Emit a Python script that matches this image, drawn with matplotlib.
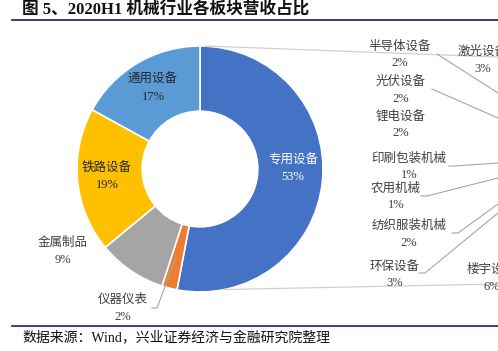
import matplotlib.pyplot as plt
import numpy as np

plt.rcParams['font.family'] = ['Liberation Serif', 'Noto Sans CJK SC']

# main ring: share of H1 2020 revenue by sub-sector (%)
main_names = ['专用设备', '仪器仪表', '金属制品', '铁路设备', '通用设备']
main_vals = [53, 2, 9, 19, 17]
main_colors = ['#4472C4', '#ED7D31', '#A5A5A5', '#FFC000', '#5B9BD5']

# breakdown of 专用设备 (secondary chart, mostly off the right edge)
sub_names = ['半导体设备', '光伏设备', '锂电设备', '印刷包装机械', '农用机械',
             '纺织服装机械', '环保设备', '楼宇设备', '激光设备']
sub_vals = [2, 2, 2, 1, 1, 2, 3, 6, 3]

W, H = 498, 351
fig = plt.figure(figsize=(W / 100, H / 100), dpi=100)

# donut, centre (200,169) px, radius 123 px
cx, cy, r = 200, 169, 123
ax = fig.add_axes([(cx - r) / W, (H - cy - r) / H, 2 * r / W, 2 * r / H])
wedges, _ = ax.pie(main_vals, colors=main_colors, startangle=90, counterclock=False,
                   radius=1, wedgeprops=dict(width=0.53, edgecolor='white', linewidth=1.2))
ax.set_xlim(-1, 1)
ax.set_ylim(-1, 1)
ax.axis('off')

# connector lines toward the secondary chart
xr = (W - cx) / r
ax.plot([0.04, xr], [1.0, (cy - 57) / r], color='#D0D0D0', lw=0.9, clip_on=False)
ang = np.deg2rad(-78.5)
ax.plot([np.cos(ang), xr], [np.sin(ang), (cy - 284) / r], color='#D0D0D0', lw=0.9, clip_on=False)

# overlay in pixel coordinates for text and rules, on top of the ring
ov = fig.add_axes([0, 0, 1, 1], zorder=10)
ov.set_xlim(0, W)
ov.set_ylim(H, 0)
ov.axis('off')

lab_col = '#404040'
fs = 9

# main ring labels (pixel positions)
main_pos = {
    '专用设备': (293, 160, 'white'),
    '通用设备': (153, 80, '#262626'),
    '铁路设备': (107, 168, '#262626'),
    '金属制品': (63, 243, lab_col),
    '仪器仪表': (123, 300, lab_col),
}
for name, v in zip(main_names, main_vals):
    x, y, c = main_pos[name]
    ov.text(x, y, name, ha='center', va='center', fontsize=fs, color=c)
    ov.text(x, y + 17, f'{v}%', ha='center', va='center', fontsize=fs, color=c)

ov.plot([152, 157, 176], [308, 308, 257], color='#A6A6A6', lw=0.8)

# secondary labels
sub_pos = {
    '半导体设备': (400, 47),
    '光伏设备': (401, 82),
    '锂电设备': (401, 117),
    '印刷包装机械': (409, 159),
    '农用机械': (396, 189),
    '纺织服装机械': (409, 226),
    '环保设备': (395, 267),
    '楼宇设备': (492, 270),
    '激光设备': (483, 52),
}
for name, v in zip(sub_names, sub_vals):
    x, y = sub_pos[name]
    ov.text(x, y, name, ha='center', va='center', fontsize=fs, color=lab_col)
    ov.text(x, y + 16.5, f'{v}%', ha='center', va='center', fontsize=fs, color=lab_col)

leaders = [
    ([437, 498], [54, 93]),
    ([432, 498], [89, 118]),
    ([449, 454, 498], [166, 166, 163]),
    ([421, 427, 498], [196, 196, 178]),
    ([452, 458, 498], [233, 233, 204]),
    ([419, 425, 498], [273, 273, 213]),
]
for xs, ys in leaders:
    ov.plot(xs, ys, color='#A6A6A6', lw=0.8)

# title and rules
ov.text(22, 10, '图 5、2020H1 机械行业各板块营收占比', ha='left', va='center',
        fontsize=12, fontweight='bold', color='#111111')
ov.plot([12, W], [19.5, 19.5], color='#2B3270', lw=1.3)
ov.plot([12, W], [326, 326], color='#2B3270', lw=1.3)
ov.text(22, 338, '数据来源：Wind，兴业证券经济与金融研究院整理', ha='left', va='center',
        fontsize=10, color='#111111')

fig.savefig('out.png', dpi=100)
